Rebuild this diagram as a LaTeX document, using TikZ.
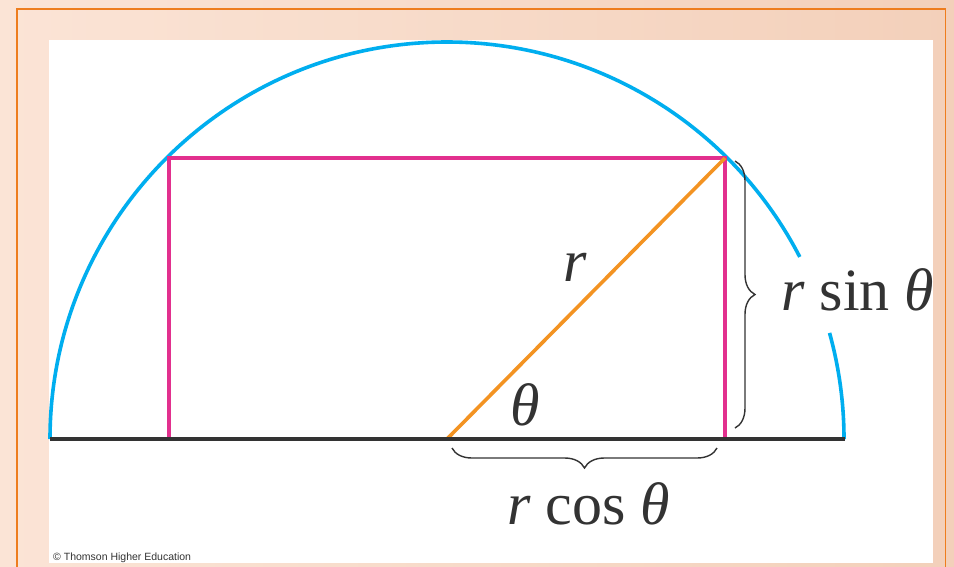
\documentclass[tikz,border=0pt]{standalone}
\usepackage{fontspec}
\setmainfont{Liberation Serif}
\newfontfamily\sansf{Liberation Sans}
\usetikzlibrary{decorations.pathreplacing}
\definecolor{bgL}{HTML}{FBE4D6}
\definecolor{bgR}{HTML}{F3D0BA}
\definecolor{framecol}{HTML}{EE7D1E}
\definecolor{arcblue}{HTML}{00AEEF}
\definecolor{rectpink}{HTML}{E2308E}
\definecolor{radorange}{HTML}{F39322}
\definecolor{ink}{HTML}{333333}
\tikzset{
  bigtext/.style={inner sep=0pt, text=ink, font=\fontsize{60}{62}\selectfont},
  bracestyle/.style={ink, line width=1.4pt, decorate, decoration={brace, amplitude=20pt}},
  geo/.style={line width=3.6pt},
}
\begin{document}
\begin{tikzpicture}[x=1pt,y=-1pt]
\useasboundingbox (0,0) rectangle (954,566);
\clip (0,0) rectangle (954,566);
\shade[left color=bgL, right color=bgR] (0,0) rectangle (954,566);
\draw[framecol, line width=1.8pt] (17,9) rectangle (945.5,600);
\fill[white] (49,40) rectangle (932.5,563);
% key points
\coordinate (O) at (447,439);
\coordinate (A) at (725,158);
\coordinate (B) at (169,158);
\coordinate (C) at (169,439);
\coordinate (D) at (725,439);
\coordinate (L) at (50,439);
\coordinate (R) at (845,439);
% semicircle (with gap at the label)
\draw[arcblue, geo] (L) arc[start angle=180, end angle=332.7, radius=397];
\draw[arcblue, geo] (O) ++(344.5:397) arc[start angle=344.5, end angle=360, radius=397];
% rectangle
\draw[rectpink, geo] (C) -- (B) -- (A) -- (D);
% radius
\draw[radorange, geo] (O) -- (A);
% baseline
\draw[ink, line width=4.5pt] (L) -- (R);
% braces
\coordinate (bt) at (735,161);
\coordinate (bb) at (735,428);
\draw[bracestyle] (bt) -- (bb);
\coordinate (cr) at (717,448);
\coordinate (cl) at (452,448);
\draw[bracestyle] (cr) -- (cl);
% labels
\node[bigtext, anchor=base west] (rsin) at (781,310) {\textit{r} sin \textit{θ}};
\node[bigtext, anchor=base west] (rcos) at (507,524) {\textit{r} cos \textit{θ}};
\node[bigtext] (rlab) at (575,267) {\textit{r}};
\node[bigtext] (thlab) at (525,405) {\textit{θ}};
\node[inner sep=0pt, anchor=base west, font=\sansf\fontsize{10.5}{12}\selectfont, text=ink] (copy) at (53,560) {© Thomson Higher Education};
\end{tikzpicture}
\end{document}
